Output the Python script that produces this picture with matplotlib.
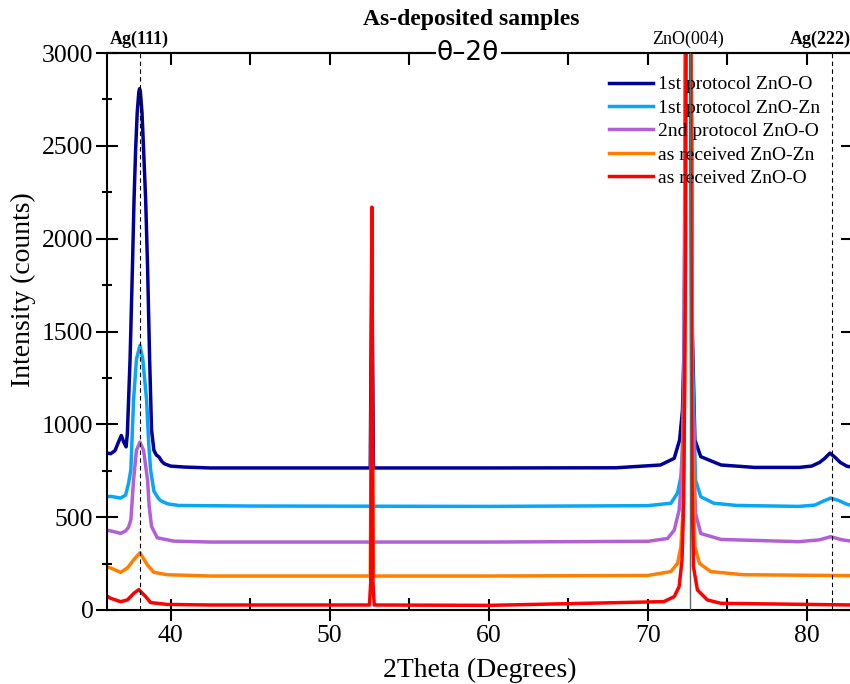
import matplotlib
matplotlib.use("Agg")
import numpy as np
import matplotlib.pyplot as plt

plt.rcParams['font.family'] = ['Liberation Serif', 'DejaVu Serif']

# 1st protocol ZnO-O
x_p1_o = [36.0, 36.23, 36.5, 36.7, 36.9, 37.05, 37.2, 37.28, 37.45, 37.6, 37.7, 37.8, 37.9,
          38.0, 38.05, 38.1, 38.2, 38.3, 38.43, 38.55, 38.68, 38.8, 38.95, 39.1, 39.27, 39.45,
          39.6, 40.0, 40.84, 42.5, 50.0, 52.55, 52.65, 52.75, 60.0, 68.0, 70.8, 71.66, 72.0,
          72.18, 72.3, 72.42, 72.55, 72.68, 72.8, 72.96, 73.33, 74.6, 76.7, 79.5, 80.3, 80.8,
          81.1, 81.45, 81.8, 82.1, 82.5, 82.9]
y_p1_o = [845, 842, 858, 900, 940, 905, 879, 950, 1350, 1850, 2210, 2480, 2680,
          2790, 2808, 2790, 2680, 2480, 2210, 1850, 1350, 970, 860, 835, 824, 800,
          788, 775, 770, 765, 765, 765, 1940, 765, 765, 766, 781, 817, 916,
          1077, 1500, 4000, 15000, 4000, 1500, 916, 826, 781, 768, 768, 775, 795,
          815, 845, 820, 795, 775, 768]

# 1st protocol ZnO-Zn
x_p1_zn = [36.0, 36.23, 36.86, 37.17, 37.35, 37.5, 37.67, 37.85, 38.07, 38.25, 38.49, 38.62,
           38.74, 38.95, 39.2, 39.37, 39.8, 40.5, 45.0, 60.0, 70.0, 71.45, 71.87, 72.08, 72.18,
           72.3, 72.42, 72.55, 72.68, 72.8, 73.0, 73.33, 74.15, 75.6, 79.5, 80.5, 81.0, 81.5,
           82.0, 82.5, 82.9]
y_p1_zn = [610, 612, 603, 619, 680, 755, 1130, 1350, 1425, 1350, 1130, 900,
           755, 640, 605, 589, 572, 563, 560, 558, 562, 575, 630, 718, 862,
           1400, 4000, 15000, 4000, 1400, 700, 610, 575, 563, 558, 565, 585, 603,
           590, 570, 562]

# 2nd protocol ZnO-O
x_p2_o = [36.0, 36.23, 36.86, 37.17, 37.35, 37.5, 37.67, 37.85, 38.07, 38.3, 38.55, 38.65,
          38.8, 39.16, 40.2, 42.5, 60.0, 70.0, 71.24, 71.66, 71.97, 72.12, 72.25, 72.42, 72.55,
          72.68, 72.8, 73.0, 73.33, 74.6, 79.5, 80.8, 81.5, 82.2, 82.9]
y_p2_o = [430, 426, 413, 426, 445, 485, 700, 860, 904, 860, 700, 560,
          450, 389, 371, 366, 366, 370, 385, 430, 538, 700, 1100, 4000, 15000,
          4000, 1100, 520, 412, 380, 368, 378, 395, 378, 370]

# as received ZnO-Zn
x_ar_zn = [36.0, 36.23, 36.86, 37.28, 37.69, 38.07, 38.53, 38.95, 39.79, 42.5, 52.55, 52.65,
           52.75, 60.0, 70.0, 71.45, 71.87, 72.08, 72.2, 72.32, 72.42, 72.55, 72.68, 72.8,
           72.96, 73.25, 73.95, 76.0, 82.9]
y_ar_zn = [232, 226, 203, 226, 272, 308, 244, 203, 190, 183, 183, 1400,
           183, 183, 186, 207, 251, 341, 520, 1200, 4000, 15000, 4000, 900,
           341, 251, 207, 190, 185]

# as received ZnO-O
x_ar_o = [36.0, 36.23, 36.86, 37.28, 37.69, 38.0, 38.43, 38.74, 39.79, 42.5, 52.5, 52.58,
          52.65, 52.72, 52.8, 60.0, 71.0, 71.66, 71.97, 72.15, 72.26, 72.38, 72.45, 72.55,
          72.65, 72.72, 72.78, 72.87, 73.12, 73.75, 74.6, 82.9]
y_ar_o = [75, 63, 45, 54, 90, 110, 72, 40, 30, 27, 27, 150,
          2170, 150, 27, 25, 45, 72, 126, 269, 592, 2000, 6000, 20000,
          6000, 2000, 700, 233, 108, 54, 36, 27]

series = [
    ('1st protocol ZnO-O', x_p1_o, y_p1_o, '#000099'),
    ('1st protocol ZnO-Zn', x_p1_zn, y_p1_zn, '#0aa5f5'),
    ('2nd protocol ZnO-O', x_p2_o, y_p2_o, '#b35fd8'),
    ('as received ZnO-Zn', x_ar_zn, y_ar_zn, '#ff7f00'),
    ('as received ZnO-O', x_ar_o, y_ar_o, '#ff0000'),
]

ag_lines = [38.05, 81.57]
zno_line = 72.64

fig = plt.figure(figsize=(8.5, 6.84), dpi=100)
ax = fig.add_axes([107 / 850, 74 / 684, 746 / 850, 557 / 684])

for name, xs, ys, col in series:
    ax.plot(xs, ys, color=col, lw=2.5, label=name)

for xv in ag_lines:
    ax.axvline(xv, color='black', lw=0.8, ls=(0, (4, 3)), zorder=5)
ax.axvline(zno_line, color='#666666', lw=1.0, zorder=6)

ax.set_xlim(36.0, 82.9)
ax.set_ylim(0, 3000)
ax.set_xticks(np.arange(40, 81, 10))
ax.set_xticks(np.arange(45, 80, 10), minor=True)
ax.set_yticks(np.arange(0, 3001, 500))
ax.set_yticks(np.arange(250, 3000, 500), minor=True)

for s in ax.spines.values():
    s.set_linewidth(1.5)
ax.tick_params(axis='both', which='major', direction='inout', length=15.5, width=1.5,
               labelsize=18.5, top=False, right=False)
ax.tick_params(axis='x', which='major', pad=3)
ax.tick_params(axis='y', which='major', pad=2)
ax.tick_params(axis='x', which='minor', direction='in', length=8.5, width=1.5, top=False)
ax.tick_params(axis='y', which='minor', direction='inout', length=7.5, width=1.5, right=False)

secx = ax.secondary_xaxis('top')
secx.set_xticks(np.arange(40, 85, 5))
secx.tick_params(direction='in', length=8.5, width=1.5, labeltop=False)
secx.spines['top'].set_linewidth(1.5)

secy = ax.secondary_yaxis('right')
secy.set_yticks(np.arange(0, 3001, 500))
secy.tick_params(direction='in', length=8.5, width=1.5, labelright=False)

ax.set_xlabel('2Theta (Degrees)', fontsize=20)
ax.set_ylabel('Intensity (counts)', fontsize=20)
ax.xaxis.set_label_coords(0.5, -0.086)
ax.yaxis.set_label_coords(-0.095, 0.575)

ax.legend(loc='upper left', bbox_to_anchor=(601 / 850, 1 - 68 / 684),
          bbox_transform=fig.transFigure, frameon=False, fontsize=14,
          handlelength=2.25, handletextpad=0.3, labelspacing=0.3, borderaxespad=0)

# peak labels above the top axis
ax.text(38.05, 3025, 'Ag(111)', fontsize=13, fontweight='bold', ha='center', va='bottom')
ax.text(72.5, 3025, 'ZnO(004)', fontsize=13, ha='center', va='bottom')
ax.text(82.75, 3025, 'Ag(222)', fontsize=13, fontweight='bold', ha='right', va='bottom')

ax.text(0.484, 1.0, 'θ–2θ', transform=ax.transAxes, fontsize=19, family='DejaVu Sans',
        ha='center', va='center', zorder=10,
        bbox=dict(facecolor='white', edgecolor='none', pad=1))

fig.text(471 / 850, 1 - 19 / 684, 'As-deposited samples', fontsize=17, fontweight='bold',
         ha='center', va='center')

fig.savefig('out.png', dpi=100)
